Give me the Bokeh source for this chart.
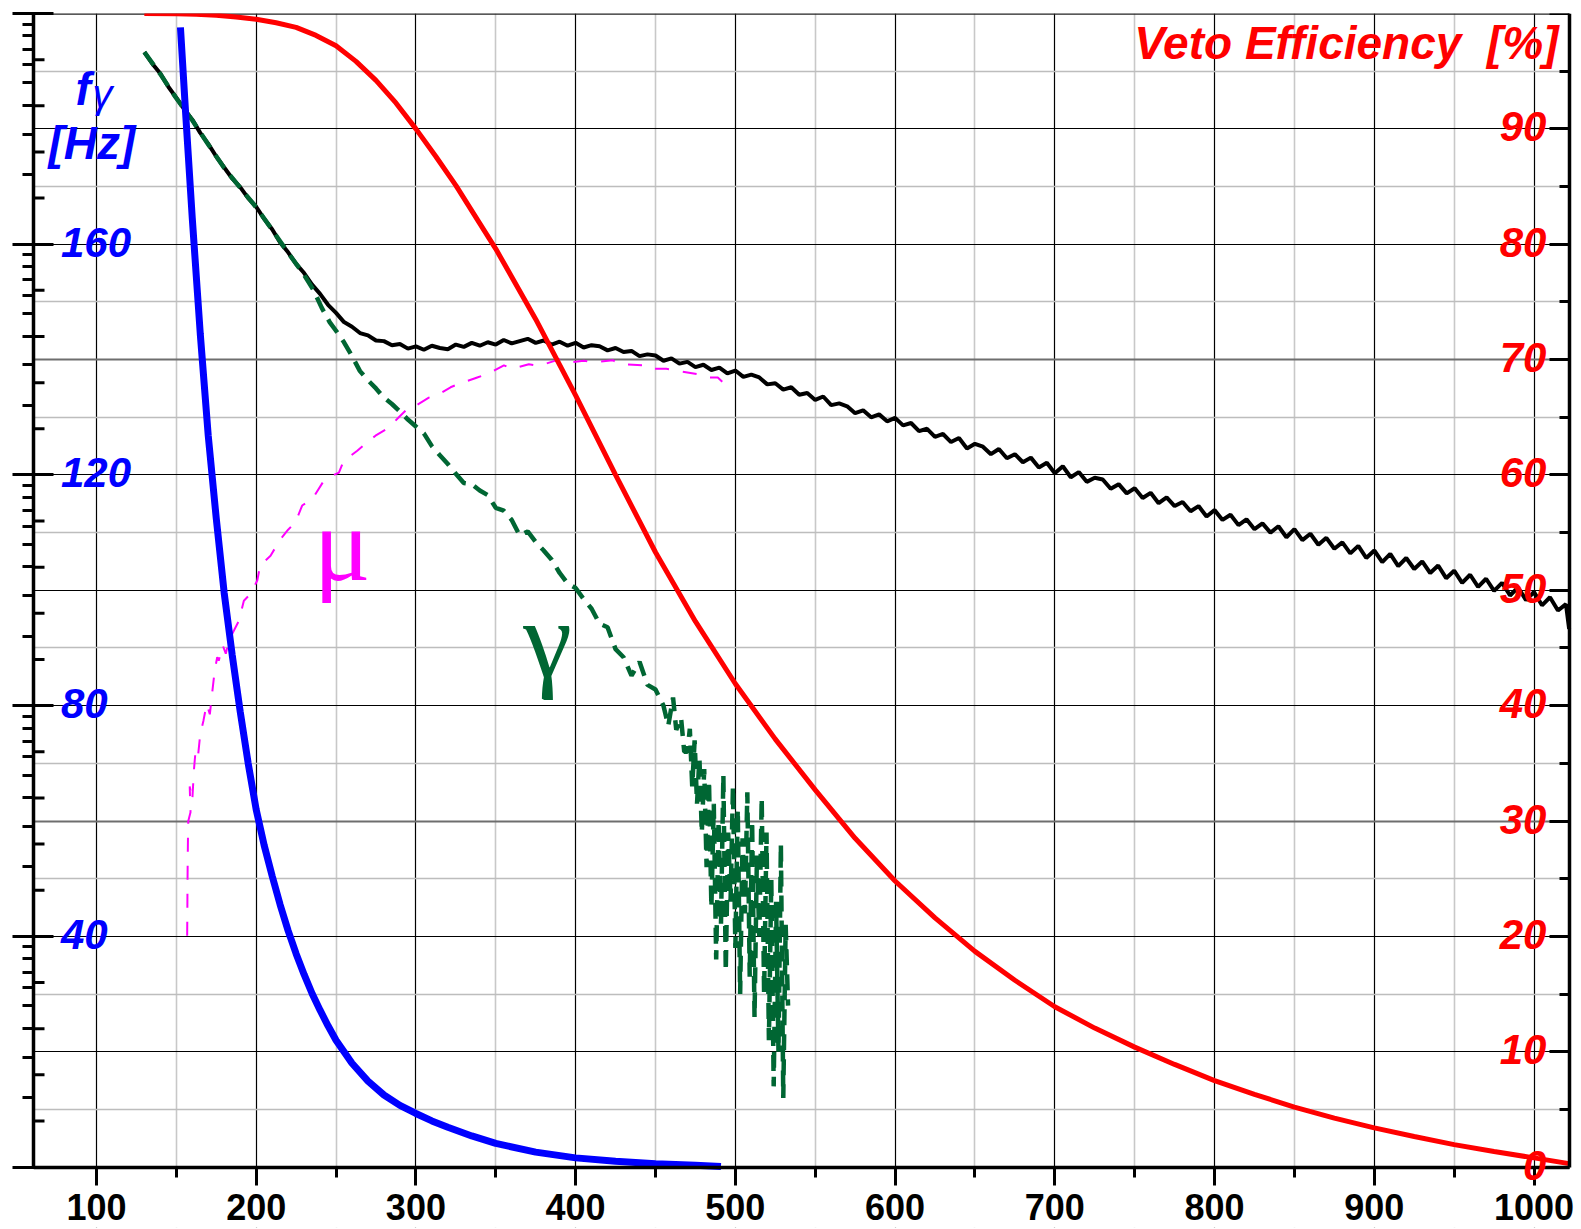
import numpy as np
from bokeh.plotting import figure
from bokeh.models import Range1d, LinearAxis, FixedTicker, Grid, Label, CustomJSTickFormatter
from bokeh.embed import file_html
from bokeh.resources import INLINE

# ---------------- data ----------------
x_ticks = [100, 200, 300, 400, 500, 600, 700, 800, 900, 1000]
left_ticks = [40, 80, 120, 160]
right_ticks = [0, 10, 20, 30, 40, 50, 60, 70, 80, 90]

# total rate (black, left axis, Hz)
black_x = list(range(130, 1021, 5)) + [1022]
black_y = [193.3, 191.3, 189.6, 187.3, 185.4, 183.4, 181.6, 179.3, 177.4, 175.2,
           173.3, 171.4, 169.9, 168.0, 166.5, 164.4, 162.6, 160.3, 158.6, 156.6,
           155.0, 153.0, 151.4, 149.5, 148.1, 146.5, 145.7, 144.6, 144.2, 143.3,
           143.2, 142.5, 142.7, 141.9, 142.3, 141.7, 142.4, 142.0, 141.8, 142.6,
           142.2, 142.9, 142.4, 143.0, 142.6, 143.4, 142.8, 143.2, 143.6, 142.9,
           143.3, 142.6, 143.1, 142.4, 142.9, 142.1, 142.5, 142.3, 141.6, 142.0,
           141.3, 141.5, 140.6, 140.9, 140.7, 139.8, 140.2, 139.3, 139.6, 138.7,
           139.1, 138.2, 138.6, 137.6, 138.1, 137.0, 137.4, 136.9, 135.7, 135.9,
           134.8, 135.2, 133.9, 134.2, 133.0, 133.6, 132.1, 132.4, 131.9, 130.7,
           131.2, 130.0, 130.5, 129.3, 129.9, 128.6, 129.0, 127.6, 128.0, 126.6,
           127.1, 125.7, 126.4, 124.6, 125.4, 124.9, 123.6, 124.5, 122.9, 123.6,
           122.2, 123.0, 121.3, 122.1, 120.3, 121.5, 119.6, 120.5, 118.8, 119.5,
           119.2, 117.6, 118.4, 116.8, 117.7, 116.0, 116.9, 115.1, 116.1, 114.6,
           115.3, 113.7, 114.6, 112.8, 113.9, 112.2, 113.1, 111.3, 112.3, 110.6,
           111.6, 110.0, 111.1, 109.2, 110.6, 108.7, 109.8, 107.9, 109.1, 107.2,
           108.3, 106.4, 107.7, 105.6, 106.9, 104.9, 106.3, 104.2, 105.6, 103.7,
           105.0, 103.0, 104.3, 102.1, 103.4, 101.3, 102.7, 100.6, 102.0, 99.9,
           101.3, 99.1, 100.5, 98.3, 99.7, 97.4, 98.8, 96.5, 97.6,
           93.3]

# gamma component (dark green dashed, left axis)
gamma_x = [130, 140, 150, 160, 170, 180, 190, 200, 210, 220,
           230, 236, 241, 246, 250, 255, 260, 265, 270, 275,
           280, 285, 290, 295, 300, 305, 310, 315, 320, 325,
           330, 335, 340, 345, 350, 355, 360, 365, 370, 375,
           380, 385, 390, 395, 400, 405, 410, 415, 420, 425,
           430, 435, 440, 445, 450, 455, 458, 461, 463, 466,
           468, 470, 471.5, 473, 474.5, 476, 477.5, 479, 480.5, 482,
           483.5, 485, 486.5, 488, 489.5, 491, 492.5, 494, 495.5, 497,
           498.5, 500, 501.5, 503, 504.5, 506, 507.5, 509, 510.5, 512,
           513.5, 515, 516.5, 518, 519.5, 521, 522.5, 524, 525.5, 527,
           528.5, 530, 531.5, 533]
gamma_y = [193.3, 189.5, 185.3, 181.5, 177.3, 173.2, 169.8, 166.4, 162.5, 158.5,
           154.7, 152.0, 149.0, 146.5, 145.0, 143.0, 140.6, 138.0, 136.4, 135.0,
           133.4, 132.3, 131.0, 129.6, 128.4, 127.2, 125.0, 123.4, 121.9, 120.2,
           118.6, 118.4, 117.3, 116.5, 114.3, 113.8, 112.2, 109.5, 110.2, 108.4,
           106.9, 105.3, 103.0, 101.2, 100.4, 98.5, 96.8, 94.2, 93.6, 89.8,
           88.4, 85.2, 87.6, 83.6, 82.8, 80.0, 76.5, 81.4, 75.8, 77.9,
           72.0, 72.0, 76.0, 66.0, 74.0, 63.0, 71.0, 58.0, 69.0, 52.0,
           67.0, 45.0, 63.0, 36.0, 60.0, 42.0, 68.0, 34.0, 58.0, 46.0,
           66.0, 38.0, 62.0, 30.0, 57.0, 44.0, 65.0, 33.0, 60.0, 26.0,
           54.0, 40.0, 64.0, 30.0, 58.0, 22.0, 50.0, 14.0, 46.0, 20.0,
           56.0, 12.0, 42.0, 28.0]

# muon component (magenta dashed, left axis)
mu_x = [156.8, 156.9, 157.0, 157.1, 157.3, 157.5, 158.9, 158.4, 160.0, 161.0,
        162.0, 163.5, 165.0, 167.0, 169.0, 171.0, 172.5, 174.0, 175.6, 176.6,
        179.0, 181.0, 182.9, 186.0, 189.2, 192.3, 196.5, 200.7, 202.7, 206.0,
        209.0, 215.3, 220.0, 224.6, 228.8, 235.1, 242.4, 245.5, 251.8, 254.9,
        259.1, 263.3, 270.5, 274.7, 283.1, 289.3, 295.6, 299.8, 308.1, 314.4,
        321.7, 327.0, 338.4, 345.7, 355.1, 360.3, 370.7, 377.0, 390.5, 395.7,
        405.1, 411.4, 423.2, 428.0, 443.5, 447.1, 456.7, 462.7, 475.8, 481.8,
        489.0, 492.0]
mu_y = [40.1, 43.6, 48.5, 51.9, 56.9, 60.0, 61.5, 66.0, 63.5, 68.7,
        72.0, 71.0, 75.1, 77.4, 80.3, 78.5, 82.3, 86.0, 88.4, 87.8,
        90.5, 89.0, 91.3, 93.0, 94.7, 98.2, 99.4, 101.7, 104.6, 105.2,
        106.0, 108.9, 110.5, 111.8, 114.7, 115.8, 119.0, 119.6, 120.4, 122.5,
        123.3, 124.2, 125.9, 126.8, 128.2, 130.0, 131.7, 132.0, 133.4, 134.0,
        135.2, 135.8, 136.9, 137.6, 139.0, 138.4, 139.2, 138.9, 140.1, 139.5,
        139.8, 139.5, 139.9, 139.2, 139.0, 138.4, 138.4, 138.1, 137.5, 136.9,
        136.9, 136.1]

# f_gamma (blue, left axis)
blue_x = [152.6, 156.0, 160.0, 165.0, 170.0, 175.0, 180.0, 185.0, 190.0, 195.0,
          200.0, 205.0, 210.0, 215.0, 220.0, 225.0, 230.0, 235.0, 240.0, 245.0,
          250.0, 260.0, 270.0, 280.0, 290.0, 300.0, 310.0, 320.0, 335.0, 350.0,
          375.0, 400.0, 425.0, 450.0, 475.0, 491.0]
blue_y = [197.6, 182.0, 164.5, 144.5, 126.8, 112.5, 99.5, 88.8, 79.0, 70.0,
          62.0, 55.8, 50.5, 45.5, 41.0, 37.0, 33.4, 30.1, 27.2, 24.5,
          22.0, 18.0, 14.9, 12.5, 10.7, 9.3, 8.0, 6.9, 5.4, 4.1,
          2.6, 1.6, 1.0, 0.6, 0.3, 0.1]

# veto efficiency (red, right axis, %)
red_x = [130, 150, 162.5, 175, 187.5, 200, 212.5, 225, 237.5, 250,
         262.5, 275, 287.5, 300, 312.5, 325, 350, 375, 400, 425,
         450, 475, 500, 525, 550, 575, 600, 625, 650, 675,
         700, 725, 750, 775, 800, 825, 850, 875, 900, 925,
         950, 975, 1000, 1022]
red_y = [100.0, 99.98, 99.93, 99.85, 99.7, 99.5, 99.2, 98.8, 98.1, 97.2,
         95.85, 94.2, 92.25, 90.0, 87.6, 85.1, 79.6, 73.5, 66.9, 60.0,
         53.3, 47.3, 41.9, 37.1, 32.7, 28.5, 24.8, 21.6, 18.7, 16.2,
         13.9, 12.05, 10.4, 8.9, 7.5, 6.3, 5.2, 4.25, 3.4, 2.65,
         1.95, 1.35, 0.8, 0.3]

# ---------------- figure ----------------
X0, X1 = 60.6, 1022.2            # plotted x interval (left axis .. right axis)
PXX = 1.5973                     # pixels per x unit
FW, FH = 1547, 1214
XR = X0 + FW / PXX               # frame reaches a little past the right axis
PXU = 5.768                      # pixels per Hz on the left scale
Y0 = 200 - FH / PXU              # frame reaches below zero to hold the x tick labels
P0 = 100 - FH / (2 * PXU)
FONT = "Liberation Sans"

p = figure(frame_width=FW, frame_height=FH,
           x_range=Range1d(X0, XR), y_range=Range1d(Y0, 200),
           output_backend="svg", toolbar_location=None,
           min_border_left=33, min_border_right=0, min_border_top=13, min_border_bottom=1,
           background_fill_color="white", border_fill_color="white")
p.extra_y_ranges = {"pct": Range1d(P0, 100)}
p.outline_line_color = None

# grids
p.xgrid.ticker = FixedTicker(ticks=x_ticks, minor_ticks=[t + 50 for t in x_ticks[:-1]])
p.xgrid.grid_line_color = "black"
p.xgrid.grid_line_width = 1.2
p.xgrid.minor_grid_line_color = "#c8c8c8"
p.xgrid.minor_grid_line_width = 1.6
p.ygrid.ticker = FixedTicker(ticks=[20, 40, 80, 100, 120, 160, 180],
                             minor_ticks=list(range(10, 200, 20)))
p.ygrid.grid_line_color = "black"
p.ygrid.grid_line_width = 1.2
p.ygrid.minor_grid_line_color = "#bdbdbd"
p.ygrid.minor_grid_line_width = 1.6
p.add_layout(Grid(dimension=1, ticker=FixedTicker(ticks=[60, 140]),
                  grid_line_color="#6e6e6e", grid_line_width=1.8))

# blank out the margins outside the plotted box (below the x axis, right of the right axis)
p.quad(left=[X0, X1], right=[X1, XR], bottom=[Y0, Y0], top=[0, 200],
       fill_color="white", line_color=None)

blank = CustomJSTickFormatter(code="return ''")

# bottom axis, drawn at y = 0
xa = p.xaxis[0]
xa.fixed_location = 0
xa.bounds = (X0, X1)
xa.ticker = FixedTicker(ticks=x_ticks, minor_ticks=[t + 50 for t in x_ticks[:-1]])
xa.axis_line_width = 3.5
xa.major_tick_line_width = 3
xa.minor_tick_line_width = 3
xa.major_tick_out = 18
xa.major_tick_in = 0
xa.minor_tick_out = 10
xa.minor_tick_in = 0
xa.major_label_text_font = FONT
xa.major_label_text_font_style = "bold"
xa.major_label_text_font_size = "36px"
xa.major_label_text_color = "black"
xa.major_label_standoff = 9

# left axis: log-style minor ticks outside, major ticks across
log_minor = [a + 40 * np.log10(k) for a in range(0, 200, 40) for k in range(2, 10)]
ya = p.yaxis[0]
ya.bounds = (0, 200)
ya.ticker = FixedTicker(ticks=[0, 40, 80, 120, 160, 200], minor_ticks=log_minor)
ya.axis_line_width = 3.5
ya.major_tick_line_width = 3
ya.minor_tick_line_width = 3
ya.major_tick_out = 21
ya.major_tick_in = 20
ya.minor_tick_out = 11
ya.minor_tick_in = 0
ya.formatter = blank
ya.major_label_text_font_size = "0px"
ya.major_label_standoff = 0

# inner linear ticks every 8 Hz on the left axis
inner = [v for v in range(8, 200, 8) if v % 40]
dx = 11 / PXX
p.segment(x0=[X0] * len(inner), y0=inner, x1=[X0 + dx] * len(inner), y1=inner,
          line_color="black", line_width=3)

# right axis (veto efficiency), drawn at x = X1
ra = LinearAxis(y_range_name="pct", bounds=(0, 100), fixed_location=X1,
                ticker=FixedTicker(ticks=list(range(0, 101, 10)), minor_ticks=list(range(5, 100, 10))),
                axis_line_width=3.5, major_tick_line_width=3, minor_tick_line_width=3,
                major_tick_in=20, major_tick_out=0, minor_tick_in=10, minor_tick_out=0,
                formatter=blank, major_label_text_font_size="0px", major_label_standoff=0)
p.add_layout(ra, "right")

# top border of the plotted box
p.segment(x0=[X0], y0=[200], x1=[X1], y1=[200], line_color="#222222", line_width=2.5)

# ---------------- curves ----------------
p.line(black_x, black_y, line_color="black", line_width=4)
p.line(gamma_x, gamma_y, line_color="#006633", line_width=4.5, line_dash="16 9")
p.line(mu_x, mu_y, line_color="#ff00ff", line_width=2, line_dash="14 14")
p.line(red_x, red_y, line_color="#ff0000", line_width=5, y_range_name="pct")
p.line(blue_x, blue_y, line_color="#0000ff", line_width=7)

# ---------------- texts ----------------
def lab(text, x, y, color, size, style="bold italic", font=FONT, align="left",
        xo=0, yo=0, rng="default"):
    p.add_layout(Label(x=x, y=y, text=text, text_color=color, text_font=font,
                       text_font_size=size, text_font_style=style, text_align=align,
                       text_baseline="alphabetic", x_offset=xo, y_offset=yo,
                       y_range_name=rng))

for v in left_ticks:
    lab(str(v), X0, v, "#0000ff", "42px", xo=27.5, yo=2)
for v in right_ticks:
    lab(str(v), X1, v, "#ff0000", "42px", align="right", xo=-23, yo=2, rng="pct")

lab("f", X0, 200, "#0000ff", "46px", xo=42, yo=-75.5)
lab("γ", X0, 200, "#0000ff", "40px", style="italic", xo=59, yo=-80)
lab("[Hz]", X0, 200, "#0000ff", "46px", xo=15, yo=-129)
lab("Veto Efficiency\u00a0 [%]", X1, 200, "#ff0000", "46px", align="right", xo=-11, yo=-29.5)

lab("μ", 253.9, 102.2, "#ff00ff", "106px", style="normal", font="Liberation Serif",
    align="center", yo=33)
lab("γ", 382.4, 86.0, "#006633", "110px", style="normal", font="Liberation Serif",
    align="center", yo=31)

open("out.html", "w").write(file_html(p, INLINE))
